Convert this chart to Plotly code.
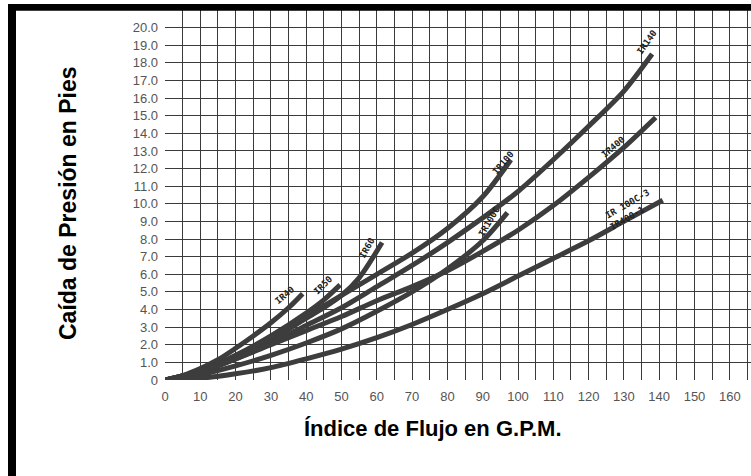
import plotly.graph_objects as go

# ---- data ----
ir40_x = [0, 5, 10, 15, 20, 25, 30, 35, 39]
ir40_y = [0, 0.25, 0.65, 1.15, 1.8, 2.5, 3.25, 4.1, 4.9]

ir50_x = [0, 10, 20, 30, 40, 45, 49.6]
ir50_y = [0, 0.5, 1.4, 2.5, 3.8, 4.55, 5.4]

ir60_x = [0, 10, 20, 30, 40, 45, 50, 55, 61.5]
ir60_y = [0, 0.45, 1.3, 2.3, 3.5, 4.1, 4.8, 5.8, 7.8]

ir100_x = [0, 10, 20, 30, 40, 50, 60, 70, 80, 90, 98]
ir100_y = [0, 0.5, 1.35, 2.4, 3.6, 4.8, 6.0, 7.2, 8.6, 10.4, 12.5]

ir140_x = [0, 10, 20, 30, 40, 50, 60, 70, 80, 90, 100, 110, 120, 130, 138]
ir140_y = [0, 0.45, 1.2, 2.1, 3.1, 4.1, 5.3, 6.5, 7.8, 9.2, 10.7, 12.5, 14.4, 16.4, 18.5]

ir400_x = [0, 10, 20, 30, 40, 50, 60, 70, 80, 90, 100, 110, 120, 130, 139]
ir400_y = [0, 0.5, 1.2, 2.0, 2.8, 3.6, 4.5, 5.3, 6.2, 7.3, 8.5, 9.9, 11.5, 13.2, 14.9]

ir100c_x = [0, 10, 20, 30, 40, 50, 60, 70, 80, 90, 97]
ir100c_y = [0, 0.3, 0.8, 1.4, 2.1, 2.9, 3.9, 5.0, 6.3, 7.9, 9.5]

ir100c3_x = [0, 10, 20, 30, 40, 50, 60, 70, 80, 90, 100, 110, 120, 130, 141]
ir100c3_y = [0, 0.1, 0.35, 0.7, 1.2, 1.75, 2.4, 3.15, 4.0, 4.9, 5.9, 6.9, 7.9, 9.0, 10.2]

curves = [
    (ir40_x, ir40_y), (ir50_x, ir50_y), (ir60_x, ir60_y), (ir100_x, ir100_y),
    (ir140_x, ir140_y), (ir400_x, ir400_y), (ir100c_x, ir100c_y), (ir100c3_x, ir100c3_y),
]

curve_labels = ["IR40", "IR50", "IR60", "IR100", "IR140", "IR400", "IR100C", "IR 100C-3", "IR400-1"]
label_x = [34, 44.8, 57.2, 95.8, 136.5, 127, 92, 131, 131]
label_y = [4.8, 5.4, 7.5, 12.3, 19.2, 13.2, 9.0, 10.0, 9.2]
label_angle = [-40, -45, -60, -50, -55, -40, -60, -30, -30]

x_ticks = list(range(0, 170, 5))
x_ticktext = [str(v) if v % 10 == 0 and v <= 160 else "" for v in x_ticks]
y_ticks = list(range(0, 22))
y_ticktext = ["0"] + [f"{v}.0" for v in range(1, 21)] + [""]

x_title = "Índice de Flujo en G.P.M."
y_title = "Caída de Presión en Pies"

# ---- figure ----
LINE = "#3d3d3d"
GRID = "#3a3a3a"
PW = 586.0  # plot-area width in px
PH = 370.0  # plot-area height in px


def px_x(sx):
    return (sx - 165) / PW


def px_y(sy):
    return (380 - sy) / PH


fig = go.Figure()
for cx, cy in curves:
    fig.add_trace(go.Scatter(x=cx, y=cy, mode="lines",
                             line=dict(color=LINE, width=5, shape="spline", smoothing=0.8),
                             showlegend=False, hoverinfo="skip"))

for t, lx, ly, ang in zip(curve_labels, label_x, label_y, label_angle):
    fig.add_annotation(x=lx, y=ly, text=f"<b>{t}</b>", showarrow=False, textangle=ang,
                       font=dict(family="DejaVu Sans Mono", size=9, color="#222"),
                       xanchor="center", yanchor="middle")

# axis titles
fig.add_annotation(xref="paper", yref="paper", x=px_x(433), y=px_y(428),
                   text=f"<b>{x_title}</b>", showarrow=False,
                   font=dict(family="Liberation Sans, Arial", size=22, color="#000"),
                   xanchor="center", yanchor="middle")
fig.add_annotation(xref="paper", yref="paper", x=px_x(68), y=px_y(203),
                   text=f"<b>{y_title}</b>", showarrow=False, textangle=-90,
                   font=dict(family="Liberation Sans, Arial", size=23, color="#000"),
                   xanchor="center", yanchor="middle")

# black frame: left bar
fig.add_shape(type="rect", xref="paper", yref="paper",
              x0=px_x(8), x1=px_x(16), y0=px_y(476), y1=px_y(4),
              fillcolor="#000", line=dict(width=0), layer="above")
# top bar (drawn as a rect, a thick line and a filled annotation box)
fig.add_shape(type="rect", xref="paper", yref="paper",
              x0=px_x(8), x1=px_x(751), y0=px_y(10.5), y1=px_y(4),
              fillcolor="#000", line=dict(width=0), layer="above")
fig.add_shape(type="line", xref="paper", yref="paper",
              x0=px_x(8), x1=px_x(751), y0=px_y(7.25), y1=px_y(7.25),
              line=dict(color="#000", width=6.5), layer="above")
fig.add_annotation(xref="paper", yref="paper", x=px_x(8), y=px_y(4),
                   xanchor="left", yanchor="top", text="", showarrow=False,
                   width=743, height=6, bgcolor="#000", borderpad=0, borderwidth=0,
                   font=dict(size=1))

fig.update_xaxes(range=[0, PW / 3.53], tickmode="array", tickvals=x_ticks, ticktext=x_ticktext,
                 showgrid=True, gridcolor=GRID, gridwidth=1.3, zeroline=False,
                 showline=False, ticks="", ticklabelstandoff=7, automargin=False,
                 tickfont=dict(family="Liberation Sans", size=13, color="#555"))
fig.update_yaxes(range=[0, 21], tickmode="array", tickvals=y_ticks, ticktext=y_ticktext,
                 showgrid=True, gridcolor=GRID, gridwidth=1.3, zeroline=False,
                 showline=False, ticks="", ticklabelstandoff=6, automargin=False,
                 tickfont=dict(family="Liberation Sans", size=13, color="#555"))

fig.update_layout(width=751, height=476, margin=dict(l=165, r=0, t=10, b=96),
                  plot_bgcolor="#fff", paper_bgcolor="#fff")

fig.write_html("out.html", config={"displayModeBar": False},
               post_script="document.body.style.margin='0';")
